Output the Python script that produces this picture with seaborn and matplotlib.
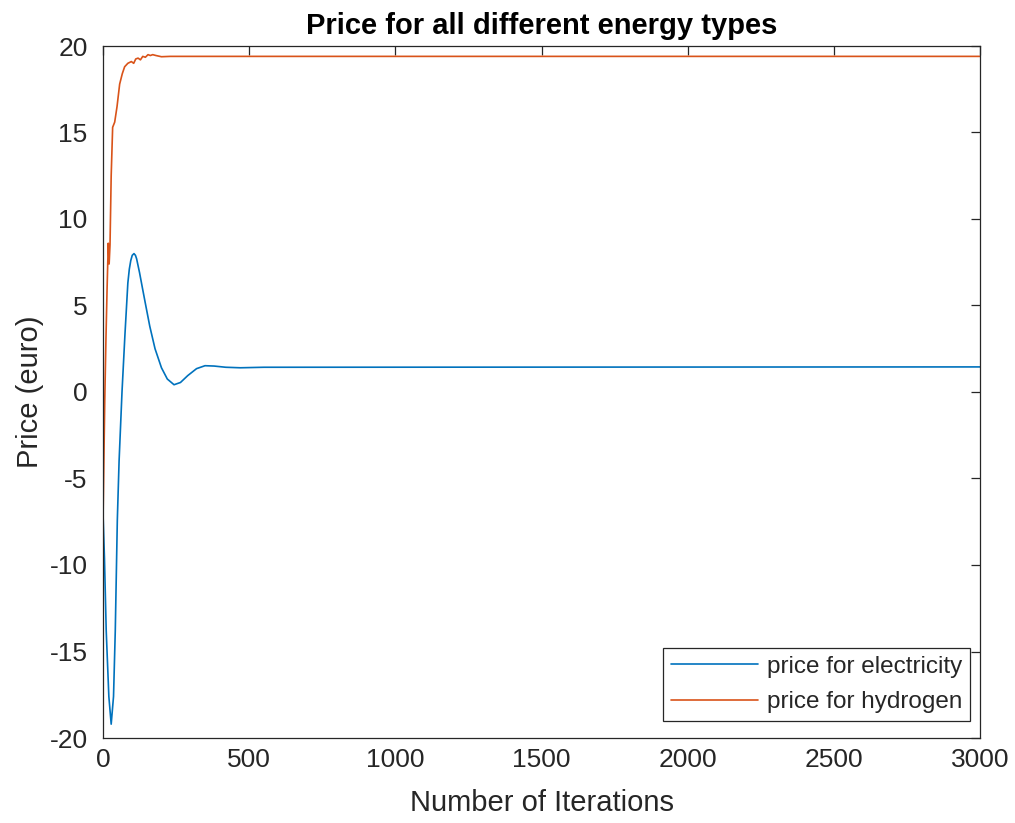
import matplotlib
matplotlib.use("Agg")
import matplotlib.pyplot as plt
import seaborn as sns
import pandas as pd

# values
elec_iter = [0, 5, 11, 20, 28, 36, 42, 49, 55, 65, 75, 85, 90, 95, 100, 106,
             111, 115, 120, 125, 135, 144, 160, 178, 200, 220, 243, 265, 290,
             320, 349, 380, 420, 470, 550, 3000]
elec_price = [-7.0, -9.6, -13.8, -17.6, -19.2, -17.6, -13.8, -7.4, -4.0, 0.0,
              3.3, 6.3, 7.1, 7.6, 7.9, 8.0, 7.9, 7.7, 7.3, 6.9, 6.0, 5.2, 3.8,
              2.5, 1.4, 0.75, 0.42, 0.55, 0.95, 1.35, 1.52, 1.5, 1.43, 1.4,
              1.43, 1.45]

hyd_iter = [0, 3, 6, 10, 14, 18, 21, 24, 28, 33, 40, 48, 57, 66, 74, 85, 97,
            105, 112, 120, 128, 136, 145, 154, 162, 170, 181, 200, 230, 300, 3000]
hyd_price = [-7.5, -4.0, -0.5, 3.0, 6.0, 8.6, 7.4, 8.5, 12.5, 15.3, 15.6, 16.5,
             17.8, 18.4, 18.8, 19.0, 19.1, 19.0, 19.25, 19.3, 19.2, 19.4, 19.35,
             19.5, 19.45, 19.5, 19.45, 19.38, 19.4, 19.4, 19.4]

series_names = ["price for electricity", "price for hydrogen"]
line_colors = ["#0072BD", "#D95319"]
x_ticks = [0, 500, 1000, 1500, 2000, 2500, 3000]
y_ticks = [-20, -15, -10, -5, 0, 5, 10, 15, 20]

df = pd.concat([
    pd.DataFrame({"iter": elec_iter, "price": elec_price, "series": series_names[0]}),
    pd.DataFrame({"iter": hyd_iter, "price": hyd_price, "series": series_names[1]}),
], ignore_index=True)

sns.set_style("white")
plt.rcParams["font.family"] = ["Liberation Sans", "DejaVu Sans"]
plt.rcParams["axes.unicode_minus"] = False

fig = plt.figure(figsize=(10.15, 8.23), dpi=100)
ax = fig.add_axes([103 / 1015, 1 - 738 / 823, 877 / 1015, 692 / 823])

sns.lineplot(data=df, x="iter", y="price", hue="series", palette=line_colors,
             linewidth=1.2, ax=ax, estimator=None)

ax.set_xlim(0, 3000)
ax.set_ylim(-20, 20)
ax.set_xticks(x_ticks)
ax.set_yticks(y_ticks)
ax.tick_params(direction="in", length=6.3, width=0.9, top=True, right=True,
               labelsize=19, colors="#262626")
ax.tick_params(axis="y", pad=11)
ax.tick_params(axis="x", pad=7)
for s in ax.spines.values():
    s.set_color("#262626")
    s.set_linewidth(0.9)

ax.set_title("Price for all different energy types", fontsize=21,
             fontweight="bold", color="#000000", pad=9)
ax.set_xlabel("Number of Iterations", fontsize=21, color="#262626")
ax.set_ylabel("Price (euro)", fontsize=21, color="#262626")
ax.xaxis.set_label_coords(0.5, -0.094)
ax.xaxis.label.set_va("center")
ax.yaxis.set_label_coords(-0.083, 0.5)
ax.yaxis.label.set_va("center")

leg = ax.legend(loc="lower right", bbox_to_anchor=(0.9886, 0.0246),
                borderaxespad=0, fontsize=17.5, handlelength=3.6,
                frameon=True, fancybox=False, framealpha=1,
                borderpad=0.32, labelspacing=0.55, handletextpad=0.35)
leg.get_frame().set_edgecolor("#262626")
leg.get_frame().set_linewidth(0.9)

fig.savefig("out.png", dpi=100)
